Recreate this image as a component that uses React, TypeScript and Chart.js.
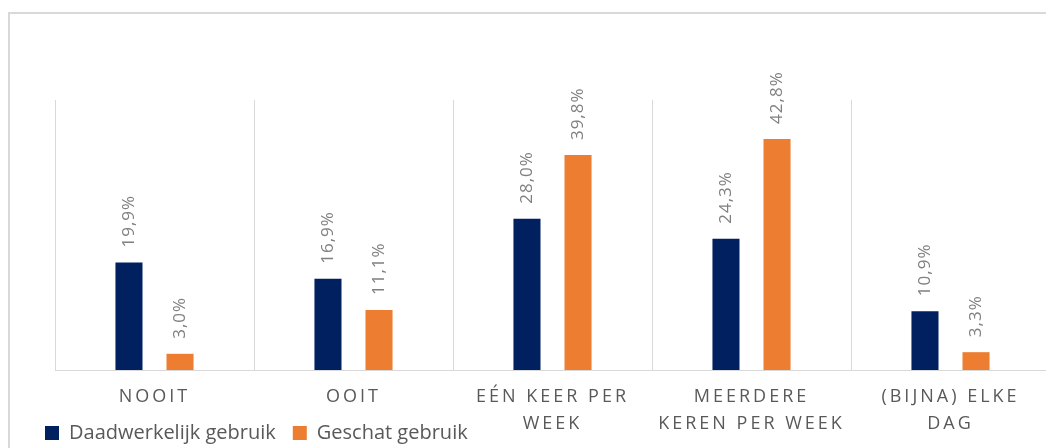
import React, { useEffect, useRef } from "react";
import { Chart, registerables } from "chart.js";

Chart.register(...registerables);

// ---- Data ----
const categories: string[][] = [
  ["NOOIT"],
  ["OOIT"],
  ["EÉN KEER PER", "WEEK"],
  ["MEERDERE", "KEREN PER WEEK"],
  ["(BIJNA) ELKE", "DAG"],
];
const seriesNames: string[] = ["Daadwerkelijk gebruik", "Geschat gebruik"];
const actualUse: number[] = [19.9, 16.9, 28.0, 24.3, 10.9];
const estimatedUse: number[] = [3.0, 11.1, 39.8, 42.8, 3.3];
const seriesColors: string[] = ["#002060", "#ED7D31"];
const yMin = 0;
const yMax = 50;

const FONT = "'Open Sans', sans-serif";
const TEXT = "#595959";
const LABEL = "#808080";
const LINE = "#d9d9d9";

const formatPct = (v: number) => v.toFixed(1).replace(".", ",") + "%";

const decorPlugin = {
  id: "decor",
  beforeDraw(chart: any) {
    const ctx = chart.ctx as any;
    ctx.letterSpacing = "0px";
    ctx.save();
    ctx.strokeStyle = LINE;
    ctx.lineWidth = 2;
    ctx.strokeRect(9, 13, 3000, 3000);
    ctx.restore();
  },
  afterLayout(chart: any) {
    const lg = chart.legend;
    if (lg) {
      const dy = 406 - lg.top;
      lg.top += dy;
      lg.bottom += dy;
    }
  },
  afterDatasetsDraw(chart: any) {
    const ctx = chart.ctx as any;
    ctx.save();
    ctx.letterSpacing = "1px";
    ctx.font = `17px ${FONT}`;
    ctx.fillStyle = LABEL;
    ctx.textAlign = "left";
    ctx.textBaseline = "middle";
    chart.data.datasets.forEach((ds: any, di: number) => {
      const meta = chart.getDatasetMeta(di);
      meta.data.forEach((el: any, i: number) => {
        const v = ds.data[i] as number;
        ctx.save();
        ctx.translate(el.x, el.y - 15);
        ctx.rotate(-Math.PI / 2);
        ctx.fillText(formatPct(v), 0, 0);
        ctx.restore();
      });
    });
    ctx.restore();
    // letter spacing for the category labels (drawn after datasets, z = 1)
    ctx.letterSpacing = "3px";
  },
  afterDraw(chart: any) {
    (chart.ctx as any).letterSpacing = "0px";
  },
};

export default function App() {
  const ref = useRef<HTMLCanvasElement>(null);

  useEffect(() => {
    if (!ref.current) return;
    const chart = new Chart(ref.current, {
      type: "bar",
      data: {
        labels: categories as any,
        datasets: [
          {
            label: seriesNames[0],
            data: actualUse,
            backgroundColor: seriesColors[0],
            categoryPercentage: 0.513,
            barPercentage: 0.53,
          },
          {
            label: seriesNames[1],
            data: estimatedUse,
            backgroundColor: seriesColors[1],
            categoryPercentage: 0.513,
            barPercentage: 0.53,
          },
        ],
      },
      options: {
        animation: false,
        responsive: false,
        layout: { padding: { top: 100, left: 28, right: 10, bottom: -31 } },
        plugins: {
          tooltip: { enabled: false },
          legend: {
            position: "bottom",
            align: "start",
            labels: {
              boxWidth: 14,
              boxHeight: 14,
              padding: 17,
              color: TEXT,
              font: { family: FONT, size: 20 },
            },
          },
        },
        scales: {
          x: {
            grid: { color: LINE, lineWidth: 1, drawTicks: false, offset: true },
            border: { color: LINE, width: 1 },
            ticks: {
              z: 1,
              color: TEXT,
              padding: 13,
              autoSkip: false,
              maxRotation: 0,
              minRotation: 0,
              font: { family: FONT, size: 18, lineHeight: "27px" } as any,
            },
            afterFit: (scale: any) => {
              scale.height = 62;
            },
          },
          y: {
            min: yMin,
            max: yMax,
            grid: { display: false },
            border: { display: false },
            ticks: { display: false },
            afterFit: (scale: any) => {
              scale.width = 27;
            },
          },
        },
      },
      plugins: [decorPlugin],
    });
    return () => chart.destroy();
  }, []);

  return (
    <div
      style={{
        position: "fixed",
        left: 0,
        top: 0,
        width: 1046,
        height: 448,
        overflow: "hidden",
        background: "#fff",
      }}
    >
      <canvas ref={ref} width={1060} height={448} style={{ display: "block" }} />
    </div>
  );
}
